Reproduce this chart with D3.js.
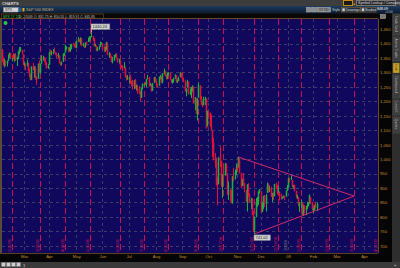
<!DOCTYPE html>
<html>
<head>
<meta charset="utf-8">
<title>SPX daily</title>
<script src="https://cdn.jsdelivr.net/npm/d3@7"></script>
<style>
  html, body { margin: 0; padding: 0; background: #2b2b2b; overflow: hidden; }
  svg { display: block; font-family: "Liberation Sans", Arial, sans-serif; }
</style>
</head>
<body>
<script>
// daily candles per month: [day, open, high, low, close]
var feb08 = [[1,1378.6,1396.0,1375.9,1395.4],[4,1395.4,1395.4,1379.7,1380.8],[5,1380.3,1380.3,1336.6,1336.6],
  [6,1339.5,1352.0,1324.3,1326.5],[7,1324.0,1347.2,1317.5,1336.9],[8,1336.9,1341.2,1321.1,1331.3],
  [11,1331.9,1341.4,1320.3,1339.1],[12,1340.6,1362.1,1339.4,1348.9],[13,1353.1,1369.2,1350.8,1367.2],
  [14,1367.3,1368.2,1347.3,1348.9],[15,1347.5,1350.0,1338.1,1350.0],[19,1355.9,1367.3,1345.0,1348.8],
  [20,1348.4,1363.7,1336.9,1360.0],[21,1362.2,1367.9,1339.3,1342.5],[22,1344.2,1354.3,1322.4,1353.1],
  [25,1352.8,1374.4,1346.0,1371.8],[26,1371.8,1387.3,1363.3,1381.3],[27,1379.0,1388.3,1372.0,1380.0],
  [28,1378.2,1378.2,1363.2,1367.7],[29,1364.1,1364.1,1325.4,1330.6]];
var mar08 = [[3,1330.5,1335.1,1320.0,1331.3],[4,1329.6,1331.0,1307.4,1326.8],[5,1327.7,1344.2,1320.2,1333.7],
  [6,1332.2,1333.2,1303.4,1304.3],[7,1301.5,1313.2,1282.4,1293.4],[10,1293.2,1295.0,1272.7,1273.4],
  [11,1274.4,1320.7,1274.4,1320.7],[12,1321.1,1333.3,1307.9,1308.8],[13,1305.3,1321.7,1282.1,1315.5],
  [14,1316.1,1321.5,1274.9,1288.1],[17,1283.2,1287.3,1257.0,1276.6],[18,1277.2,1330.7,1277.2,1330.7],
  [19,1331.0,1341.5,1298.4,1298.4],[20,1299.7,1330.7,1295.2,1329.5],[24,1330.3,1359.7,1330.3,1349.9],
  [25,1349.1,1357.5,1341.2,1353.0],[26,1352.5,1352.5,1336.4,1341.1],[27,1340.3,1345.6,1325.7,1325.8],
  [28,1327.0,1334.9,1312.9,1315.2],[31,1315.9,1328.3,1312.8,1322.7]];
var apr08 = [[1,1326.4,1370.2,1326.4,1370.2],[2,1370.0,1378.0,1361.6,1367.5],[3,1365.7,1375.7,1358.7,1369.3],
  [4,1369.9,1380.9,1362.8,1370.4],[7,1373.7,1386.7,1369.0,1372.5],[8,1370.2,1370.2,1360.6,1365.5],
  [9,1365.5,1368.4,1350.0,1354.5],[10,1355.4,1367.2,1350.1,1360.6],[11,1358.0,1358.0,1331.2,1332.8],
  [14,1332.2,1335.6,1324.0,1328.3],[15,1331.7,1337.7,1324.3,1334.4],[16,1337.0,1365.5,1337.0,1364.7],
  [17,1363.4,1368.6,1357.2,1365.6],[18,1369.0,1395.9,1369.0,1390.3],[21,1387.7,1390.2,1379.3,1388.2],
  [22,1386.4,1386.4,1369.8,1375.9],[23,1378.4,1387.4,1372.2,1379.9],[24,1380.5,1397.7,1371.1,1388.8],
  [25,1387.9,1399.1,1380.0,1397.8],[28,1398.0,1402.9,1394.4,1396.4],[29,1395.6,1397.0,1386.7,1390.9],
  [30,1391.2,1404.6,1384.3,1385.6]];
var may08 = [[1,1386.0,1410.1,1383.1,1409.3],[2,1409.2,1422.7,1406.3,1413.9],[5,1415.3,1415.3,1404.4,1407.5],
  [6,1405.6,1421.6,1397.1,1418.3],[7,1417.5,1419.5,1391.2,1392.6],[8,1394.3,1402.4,1389.4,1397.7],
  [9,1394.9,1394.9,1384.1,1388.3],[12,1389.4,1404.1,1386.2,1403.6],[13,1404.4,1406.3,1396.3,1403.0],
  [14,1405.6,1420.2,1405.6,1408.7],[15,1408.4,1424.4,1406.9,1423.6],[16,1423.9,1425.8,1414.4,1425.4],
  [19,1425.3,1440.2,1421.6,1426.6],[20,1424.5,1424.5,1409.1,1413.4],[21,1414.1,1419.1,1388.8,1390.7],
  [22,1390.8,1399.1,1390.2,1394.4],[23,1392.2,1392.2,1373.7,1375.9],[27,1376.0,1387.4,1373.1,1385.4],
  [28,1386.5,1391.3,1378.2,1390.8],[29,1390.5,1406.3,1388.6,1398.3],[30,1398.4,1404.5,1398.1,1400.4]];
var jun08 = [[2,1399.6,1399.6,1377.8,1385.7],[3,1386.4,1393.1,1370.1,1377.7],[4,1376.3,1388.2,1371.7,1377.2],
  [5,1377.5,1405.1,1377.5,1404.1],[6,1400.1,1404.1,1359.9,1360.7],[9,1360.8,1370.6,1350.7,1361.8],
  [10,1359.0,1366.8,1351.6,1358.4],[11,1357.1,1357.1,1335.5,1335.5],[12,1335.8,1353.0,1331.3,1339.9],
  [13,1341.8,1360.0,1341.7,1360.0],[16,1358.9,1364.7,1352.1,1360.1],[17,1360.7,1366.6,1350.5,1350.9],
  [18,1349.6,1349.6,1333.4,1337.8],[19,1336.9,1347.7,1330.4,1342.8],[20,1341.0,1341.0,1314.5,1317.9],
  [23,1319.8,1324.6,1314.0,1318.0],[24,1317.2,1326.0,1304.4,1314.3],[25,1314.5,1335.6,1314.5,1322.0],
  [26,1316.3,1316.3,1283.2,1283.2],[27,1283.6,1289.5,1272.0,1278.4],[30,1278.1,1290.7,1274.9,1280.0]];
var jul08 = [[1,1276.7,1285.3,1260.7,1284.9],[2,1285.8,1292.2,1261.5,1261.5],[3,1263.0,1271.5,1252.0,1262.9],
  [7,1262.9,1274.0,1240.7,1252.3],[8,1251.8,1274.2,1242.8,1273.7],[9,1273.4,1277.4,1244.6,1244.7],
  [10,1245.3,1257.6,1236.8,1253.4],[11,1248.7,1257.3,1225.4,1239.5],[14,1241.6,1253.5,1225.0,1228.3],
  [15,1226.8,1234.4,1200.4,1214.9],[16,1214.6,1245.5,1211.4,1245.4],[17,1246.3,1262.3,1241.5,1260.3],
  [18,1258.2,1262.2,1251.8,1260.7],[21,1261.8,1267.7,1255.7,1260.0],[22,1257.1,1277.4,1248.8,1277.0],
  [23,1278.9,1291.2,1276.1,1282.2],[24,1283.2,1283.2,1251.5,1252.5],[25,1253.5,1263.2,1251.8,1257.8],
  [28,1257.8,1260.1,1234.4,1234.4],[29,1236.4,1263.2,1236.4,1263.2],[30,1264.5,1284.3,1264.5,1284.3],
  [31,1281.4,1284.9,1265.7,1267.4]];
var aug08 = [[1,1269.4,1270.5,1254.5,1260.3],[4,1253.3,1260.5,1247.5,1249.0],[5,1254.9,1284.9,1254.7,1284.9],
  [6,1284.0,1291.7,1276.0,1289.2],[7,1286.5,1286.5,1264.3,1266.1],[8,1266.3,1297.9,1262.1,1296.3],
  [11,1294.4,1313.2,1292.8,1305.3],[12,1304.8,1304.8,1285.6,1289.6],[13,1288.6,1294.0,1274.9,1285.8],
  [14,1282.1,1300.1,1276.8,1292.9],[15,1293.9,1302.1,1290.7,1298.2],[18,1298.1,1300.2,1274.5,1278.6],
  [19,1276.7,1276.7,1263.1,1266.7],[20,1267.3,1276.0,1261.2,1274.5],[21,1271.1,1281.6,1264.8,1277.7],
  [22,1277.6,1293.1,1277.6,1292.2],[25,1290.5,1290.5,1264.9,1266.8],[26,1267.0,1275.7,1263.2,1271.5],
  [27,1271.3,1285.1,1270.0,1281.7],[28,1283.8,1300.7,1283.8,1300.7],[29,1296.5,1297.6,1282.7,1282.8]];
var sep08 = [[2,1287.8,1303.0,1272.2,1277.6],[3,1276.6,1280.6,1265.6,1275.0],[4,1271.8,1271.8,1232.8,1236.8],
  [5,1233.2,1244.9,1217.2,1242.3],[8,1249.5,1274.4,1247.1,1267.8],[9,1268.0,1268.7,1224.5,1224.5],
  [10,1227.5,1243.9,1221.6,1232.0],[11,1229.0,1250.0,1211.5,1249.1],[12,1245.9,1255.1,1233.8,1251.7],
  [15,1250.9,1250.9,1192.7,1192.7],[16,1188.3,1214.8,1169.3,1213.6],[17,1210.3,1210.3,1155.9,1156.4],
  [18,1157.1,1211.1,1133.5,1206.5],[19,1213.1,1265.1,1213.1,1255.1],[22,1255.4,1255.5,1205.6,1207.1],
  [23,1207.6,1219.2,1187.2,1188.2],[24,1188.8,1197.4,1179.8,1185.9],[25,1186.7,1215.8,1186.7,1209.2],
  [26,1204.5,1215.8,1187.5,1213.3],[29,1209.1,1209.1,1106.4,1106.4],[30,1113.8,1168.0,1113.8,1166.4]];
var oct08 = [[1,1164.2,1167.0,1140.8,1161.1],[2,1160.6,1160.6,1111.4,1114.3],[3,1115.2,1153.8,1098.1,1099.2],
  [6,1097.6,1097.6,1008.0,1056.9],[7,1057.6,1072.9,996.2,996.2],[8,988.9,1021.1,970.4,984.9],
  [9,988.4,1005.3,909.2,909.9],[10,902.3,936.4,839.8,899.2],[13,912.8,1006.9,912.8,1003.4],
  [14,1010.0,1044.3,972.1,998.0],[15,994.6,994.6,904.0,907.8],[16,909.5,947.7,865.8,946.4],
  [17,942.3,984.6,918.7,940.6],[20,943.5,985.4,943.5,985.4],[21,980.4,985.4,952.5,955.1],
  [22,951.7,951.7,875.8,896.8],[23,899.1,922.8,858.4,908.1],[24,895.1,896.3,852.9,876.8],
  [27,874.3,893.8,846.8,848.9],[28,848.9,940.5,845.3,940.5],[29,939.5,970.0,922.3,930.1],
  [30,939.4,963.2,928.9,954.1],[31,953.1,984.4,944.6,968.8]];
var nov08 = [[3,968.7,975.6,958.8,966.3],[4,971.3,1007.5,971.3,1005.8],[5,1001.8,1001.8,949.9,952.8],
  [6,952.4,952.4,899.7,904.9],[7,907.4,931.5,906.9,931.0],[10,936.8,952.0,907.5,919.2],
  [11,917.2,917.2,884.9,899.0],[12,893.4,893.4,850.5,852.3],[13,853.1,913.0,818.7,911.3],
  [14,904.4,916.9,869.9,873.3],[17,873.2,882.3,849.0,850.8],[18,852.3,865.9,826.8,859.1],
  [19,859.0,864.6,806.2,806.6],[20,805.9,820.5,747.8,752.4],[21,755.8,801.2,741.0,800.0],
  [24,801.2,865.6,800.0,851.8],[25,853.4,868.9,835.0,857.4],[26,852.9,887.7,841.4,887.7],
  [28,886.9,896.3,881.2,896.2]];
var dec08 = [[1,888.6,888.6,815.7,816.2],[2,817.9,850.5,817.9,848.8],[3,843.6,873.1,827.6,870.7],
  [4,869.8,875.6,833.6,845.2],[5,844.4,879.4,818.4,876.1],[8,882.7,918.6,882.7,909.7],
  [9,906.5,916.3,885.4,888.7],[10,892.2,908.3,885.5,899.2],[11,898.4,904.6,868.7,873.6],
  [12,871.8,883.2,851.4,879.7],[15,881.1,884.6,857.7,868.6],[16,871.5,914.7,871.5,913.2],
  [17,908.2,918.9,895.9,904.4],[18,905.0,911.0,877.4,885.3],[19,887.0,905.5,883.0,887.9],
  [22,887.2,887.4,857.1,871.6],[23,874.3,880.4,860.1,863.2],[24,863.9,869.8,861.4,868.2],
  [26,869.5,873.7,866.5,872.8],[29,872.4,873.7,857.1,869.4],[30,870.6,891.1,870.6,890.6],
  [31,890.6,910.3,889.7,903.3]];
var jan09 = [[2,903.0,934.7,899.4,931.8],[5,929.2,936.6,919.5,927.5],[6,931.2,943.9,927.3,934.7],
  [7,927.5,927.5,902.4,906.7],[8,905.7,910.0,896.8,909.7],[9,909.9,911.9,888.3,890.4],
  [12,890.4,890.4,864.3,870.3],[13,869.8,877.0,862.0,871.8],[14,867.3,867.3,836.9,842.6],
  [15,842.0,851.6,817.0,843.7],[16,844.5,858.1,830.7,850.1],[20,849.6,849.6,804.0,805.2],
  [21,806.8,841.7,804.3,840.2],[22,839.7,839.7,811.3,827.5],[23,822.2,838.6,806.1,832.0],
  [26,832.5,852.5,827.7,836.6],[27,837.3,850.5,836.3,845.7],[28,845.7,877.9,845.7,874.1],
  [29,868.9,868.9,844.2,845.1],[30,845.7,851.7,821.7,825.9]];
var feb09 = [[2,823.1,830.8,812.9,825.4],[3,825.7,842.6,822.0,838.5],[4,837.8,851.9,829.2,832.2],
  [5,831.8,850.6,819.9,845.9]];

var candleMonths = [["2008-02", feb08], ["2008-03", mar08], ["2008-04", apr08], ["2008-05", may08],
  ["2008-06", jun08], ["2008-07", jul08], ["2008-08", aug08], ["2008-09", sep08], ["2008-10", oct08],
  ["2008-11", nov08], ["2008-12", dec08], ["2009-01", jan09], ["2009-02", feb09]];

var holidays = ["2008-02-18", "2008-03-21", "2008-05-26", "2008-07-04", "2008-09-01", "2008-11-27",
  "2008-12-25", "2009-01-01", "2009-01-19", "2009-02-16", "2009-04-10"];
var opexDates = ["2008-02-15", "2008-03-20", "2008-04-18", "2008-05-16", "2008-06-20", "2008-07-18",
  "2008-08-15", "2008-09-19", "2008-10-17", "2008-11-21", "2008-12-19", "2009-01-16", "2009-02-20",
  "2009-03-20", "2009-04-17"];
var yearMarks = ["2009-01-02"];
var monthLabels = ["Mar", "Apr", "May", "Jun", "Jul", "Aug", "Sep", "Oct", "Nov", "Dec", "09", "Feb", "Mar", "Apr"];
var priceTicks = [700, 750, 800, 850, 900, 950, 1000, 1050, 1100, 1150, 1200, 1250, 1300, 1350, 1400, 1450];

var upperTrend = [["2008-11-04", 1007.5], ["2009-03-20", 872]];
var lowerTrend = [["2008-11-21", 741.0], ["2009-03-20", 872]];
var callouts = [["2008-05-19", 1440.24, "1440.24", "up"], ["2008-11-21", 741.02, "741.02", "down"]];

var W = 400, H = 268;
var plot = {left: 2, right: 378, top: 19, bottom: 253};

var fmt = d3.timeFormat("%Y-%m-%d");
var parse = d3.timeParse("%Y-%m-%d");

// trading calendar: weekdays minus exchange holidays
var calendar = d3.timeDay.range(new Date(2008, 1, 1), new Date(2009, 4, 1))
  .filter(function (d) { return d.getDay() > 0 && d.getDay() < 6 && holidays.indexOf(fmt(d)) < 0; });
var dayIndex = {};
calendar.forEach(function (d, i) { dayIndex[fmt(d)] = i; });

var candles = [];
candleMonths.forEach(function (m) {
  m[1].forEach(function (r) {
    var key = m[0] + "-" + (r[0] < 10 ? "0" : "") + r[0];
    candles.push({i: dayIndex[key], open: r[1], high: r[2], low: r[3], close: r[4]});
  });
});

var x = d3.scaleLinear().domain([2.33, 304.2]).range([plot.left, plot.right]);
var y = d3.scaleLinear().domain([675, 1485]).range([plot.bottom, plot.top]);
var px = function (i) { return Math.round(x(i)) + 0.5; };

var svg = d3.select("body").append("svg").attr("width", W).attr("height", H);

// ---- window chrome ----
svg.append("rect").attr("width", W).attr("height", H).attr("fill", "#2b2b2b");
svg.append("rect").attr("width", W).attr("height", 6).attr("fill", "#3d3d3d");
svg.append("text").attr("x", 2).attr("y", 4.6).attr("font-size", 4).attr("font-weight", "bold")
  .attr("fill", "#d8d8d8").text("CHARTS");
svg.append("rect").attr("x", 343.5).attr("y", 0.5).attr("width", 9).attr("height", 5)
  .attr("fill", "#1a1a1a").attr("stroke", "#c88a10");
svg.append("path").attr("d", "M353,5 L355,5 L355,3 Z").attr("fill", "#d09010");
svg.append("rect").attr("x", 356.5).attr("y", 0.5).attr("width", 39).attr("height", 5)
  .attr("fill", "#262626").attr("stroke", "#777");
svg.append("text").attr("x", 358).attr("y", 4.4).attr("font-size", 3.6).attr("fill", "#ddd")
  .text("Symbol Lookup / Company");

var grad = svg.append("defs").append("linearGradient").attr("id", "bar").attr("x1", 0).attr("x2", 0)
  .attr("y1", 0).attr("y2", 1);
grad.append("stop").attr("offset", 0).attr("stop-color", "#1e3c5e");
grad.append("stop").attr("offset", 1).attr("stop-color", "#0b1a30");
svg.append("rect").attr("y", 6).attr("width", W).attr("height", 7.5).attr("fill", "url(#bar)");
svg.append("rect").attr("x", 3.5).attr("y", 7.5).attr("width", 15).attr("height", 4.5)
  .attr("fill", "#d4d4d4").attr("stroke", "#888").attr("stroke-width", 0.5);
svg.append("text").attr("x", 5).attr("y", 11.1).attr("font-size", 3.6).attr("fill", "#333").text("SPX");
svg.append("rect").attr("x", 18.5).attr("y", 7.5).attr("width", 3).attr("height", 4.5).attr("fill", "#2a5a8a");
svg.append("rect").attr("x", 22.5).attr("y", 8).attr("width", 2).attr("height", 3.5).attr("fill", "#e0b020");
svg.append("text").attr("x", 26).attr("y", 11.2).attr("font-size", 3.8).attr("fill", "#c8b070")
  .text("S&P 500 INDEX");

[[306, 5], [312, 4], [317, 13]].forEach(function (b) {
  svg.append("rect").attr("x", b[0] + 0.5).attr("y", 7.5).attr("width", b[1]).attr("height", 4.5)
    .attr("fill", "#8a8a8a").attr("stroke", "#bbb").attr("stroke-width", 0.5);
});
svg.append("text").attr("x", 319).attr("y", 11).attr("font-size", 3.4).attr("fill", "#222").text("1Y 1D");
svg.append("text").attr("x", 332).attr("y", 11).attr("font-size", 3.6).attr("fill", "#ccc").text("Style");
[[341, 19, "Drawings"], [360.5, 15, "Studies"]].forEach(function (b) {
  svg.append("rect").attr("x", b[0] + 0.5).attr("y", 7.5).attr("width", b[1]).attr("height", 4.5)
    .attr("fill", "#1b2b40").attr("stroke", "#a07020").attr("stroke-width", 0.5);
  svg.append("rect").attr("x", b[0] + 1.3).attr("y", 8.3).attr("width", 2.5).attr("height", 2.9).attr("fill", "#ccc");
  svg.append("text").attr("x", b[0] + 4.5).attr("y", 11).attr("font-size", 3.4).attr("fill", "#ddd").text(b[2]);
});
svg.append("text").attr("x", 377).attr("y", 10).attr("font-size", 3.6).attr("fill", "#fff").text("848.09");
svg.append("text").attr("x", 385).attr("y", 13).attr("font-size", 3).attr("fill", "#bbb").text("+0.00");

// chart header strip
svg.append("rect").attr("y", 13.5).attr("width", W).attr("height", 5.5).attr("fill", "#080808");
svg.append("rect").attr("x", 1.5).attr("y", 14).attr("width", 102).attr("height", 4.5)
  .attr("fill", "none").attr("stroke", "#7a5020").attr("stroke-width", 0.6);
svg.append("text").attr("x", 3).attr("y", 17.6).attr("font-size", 3.4).attr("fill", "#3ad050").text("SPX 1Y 1D");
svg.append("text").attr("x", 19).attr("y", 17.6).attr("font-size", 3.4).attr("fill", "#ccc")
  .text("D: 2/5/09  O: 831.75  H: 850.55  L: 819.91  C: 845.85");

// ---- plot ----
svg.append("rect").attr("x", 0).attr("y", plot.top).attr("width", plot.left).attr("height", plot.bottom - plot.top)
  .attr("fill", "#5a4a3a");
svg.append("rect").attr("x", plot.left).attr("y", plot.top).attr("width", plot.right - plot.left)
  .attr("height", plot.bottom - plot.top).attr("fill", "#10085c");
svg.append("clipPath").attr("id", "clip").append("rect").attr("x", plot.left).attr("y", plot.top)
  .attr("width", plot.right - plot.left).attr("height", plot.bottom - plot.top);
var g = svg.append("g").attr("clip-path", "url(#clip)");

// month starts (first trading day of each month)
var monthStarts = d3.timeMonth.range(new Date(2008, 2, 1), new Date(2009, 4, 1)).map(function (m) {
  return d3.bisector(function (d) { return d; }).left(calendar, m);
});

// grid
g.selectAll(".hgrid").data(priceTicks).join("line")
  .attr("x1", plot.left).attr("x2", plot.right)
  .attr("y1", function (d) { return Math.round(y(d)) + 0.5; })
  .attr("y2", function (d) { return Math.round(y(d)) + 0.5; })
  .attr("stroke", "#3e3c66").attr("stroke-dasharray", "3,3");
g.selectAll(".vgrid").data(monthStarts).join("line")
  .attr("x1", px).attr("x2", px).attr("y1", plot.top).attr("y2", plot.bottom)
  .attr("stroke", "#3e3c66").attr("stroke-dasharray", "3,3");

// expiration lines
var opexIdx = opexDates.map(function (d) { return dayIndex[d]; });
g.selectAll(".opex").data(opexIdx).join("line")
  .attr("x1", px).attr("x2", px).attr("y1", plot.top).attr("y2", plot.bottom)
  .attr("stroke", "#c8124e").attr("stroke-dasharray", "6,3");
g.selectAll(".opexlab").data(opexDates).join("text")
  .attr("transform", function (d) { return "translate(" + (px(dayIndex[d]) - 1.5) + ",252) rotate(-90)"; })
  .attr("font-size", 3.8).attr("fill", "#d0185a")
  .text(function (d) { return d3.timeFormat("%-m/%-d/%y")(parse(d)); });
g.selectAll(".yearlab").data(yearMarks).join("text")
  .attr("transform", function (d) { return "translate(" + (px(dayIndex[d]) - 1.5) + ",251) rotate(-90)"; })
  .attr("font-size", 3.8).attr("fill", "#8a8a8a")
  .text(function (d) { return d3.timeFormat("%-m/%-d/%y")(parse(d)); });

// candles
var cg = g.selectAll(".candle").data(candles).join("g");
cg.append("line")
  .attr("x1", function (d) { return px(d.i); }).attr("x2", function (d) { return px(d.i); })
  .attr("y1", function (d) { return y(d.high); }).attr("y2", function (d) { return y(d.low); })
  .attr("stroke", function (d) { return d.close >= d.open ? "#1fb03c" : "#e0123a"; });
cg.append("rect")
  .attr("x", function (d) { return px(d.i) - 0.75; }).attr("width", 1.5)
  .attr("y", function (d) { return y(Math.max(d.open, d.close)); })
  .attr("height", function (d) { return Math.max(1, Math.abs(y(d.open) - y(d.close))); })
  .attr("fill", function (d) { return d.close >= d.open ? "#1fb03c" : "#e0123a"; });

// triangle trendlines
var line = d3.line().x(function (d) { return x(dayIndex[d[0]]); }).y(function (d) { return y(d[1]); });
[upperTrend, lowerTrend].forEach(function (t) {
  g.append("path").attr("d", line(t)).attr("fill", "none").attr("stroke", "#d22a6a").attr("stroke-width", 1);
});

// high / low callouts
callouts.forEach(function (c) {
  var cx = px(dayIndex[c[0]]), cy = y(c[1]);
  var by = c[3] === "up" ? cy - 8 : cy + 1;
  if (c[3] === "up") {
    g.append("line").attr("x1", cx).attr("x2", cx).attr("y1", cy).attr("y2", cy - 3).attr("stroke", "#aaa");
  }
  g.append("rect").attr("x", cx - 0.5).attr("y", by).attr("width", c[2].length * 2.4 + 2).attr("height", 5.5)
    .attr("fill", "#cfcfcf").attr("stroke", "#8c8c8c").attr("stroke-width", 0.5);
  g.append("text").attr("x", cx + 1).attr("y", by + 4.2).attr("font-size", 4).attr("fill", "#222").text(c[2]);
});

svg.append("circle").attr("cx", 5.5).attr("cy", 23).attr("r", 2).attr("fill", "#2ec44a");

// plot frame
svg.append("line").attr("x1", 0).attr("x2", plot.right).attr("y1", plot.top - 0.5).attr("y2", plot.top - 0.5)
  .attr("stroke", "#6a4820");
svg.append("line").attr("x1", plot.right + 0.5).attr("x2", plot.right + 0.5).attr("y1", plot.top)
  .attr("y2", plot.bottom).attr("stroke", "#6a4820");

// right price axis
svg.append("rect").attr("x", plot.right + 1).attr("y", plot.top).attr("width", 13).attr("height", plot.bottom - plot.top + 9)
  .attr("fill", "#050505");
var yAxis = svg.append("g").attr("transform", "translate(" + (plot.right + 1) + ",0)")
  .call(d3.axisRight(y).tickValues(priceTicks).tickFormat(d3.format(",")).tickSize(0).tickPadding(1));
yAxis.select(".domain").remove();
yAxis.selectAll("text").attr("font-size", 4.2).attr("fill", "#c8902e").attr("font-family", "Liberation Sans, Arial");
svg.append("rect").attr("x", 380.5).attr("y", 14.5).attr("width", 5).attr("height", 4)
  .attr("fill", "#777").attr("stroke", "#bbb").attr("stroke-width", 0.5);

// bottom time axis
svg.append("rect").attr("x", 0).attr("y", plot.bottom).attr("width", plot.right + 1).attr("height", 9).attr("fill", "#050505");
svg.append("line").attr("x1", 0).attr("x2", plot.right).attr("y1", plot.bottom + 0.5).attr("y2", plot.bottom + 0.5)
  .attr("stroke", "#5a4020");
var xAxis = svg.append("g").attr("transform", "translate(0," + plot.bottom + ")")
  .call(d3.axisBottom(x).tickValues(monthStarts)
    .tickFormat(function (d, i) { return monthLabels[i]; }).tickSize(0).tickPadding(2));
xAxis.select(".domain").remove();
xAxis.selectAll("text").attr("font-size", 4.2).attr("fill", "#c8902e").attr("font-family", "Liberation Sans, Arial");

// bottom bar
svg.append("rect").attr("y", 262).attr("width", W).attr("height", 6).attr("fill", "#3a3a3a");
[1, 6, 11, 16].forEach(function (bx) {
  svg.append("rect").attr("x", bx + 0.5).attr("y", 262.5).attr("width", 4).attr("height", 4)
    .attr("fill", "#cfcfcf").attr("stroke", "#777").attr("stroke-width", 0.5);
});
svg.append("text").attr("x", 23).attr("y", 266.5).attr("font-size", 4).attr("fill", "#ddd").text("1");
svg.append("text").attr("x", 394).attr("y", 266.5).attr("font-size", 4).attr("fill", "#ddd").text("»");

// right side tab strip
svg.append("rect").attr("x", 392).attr("y", 13.5).attr("width", 8).attr("height", 248.5).attr("fill", "#2e2e2e");
var tabs = [["Trade Grid", 14, 36], ["Active Trader", 37, 62], ["Live", 63, 74], ["Dashboard", 75, 99],
  ["Level II", 100, 116], ["Quotes", 117, 134]];
tabs.forEach(function (t) {
  svg.append("rect").attr("x", 393).attr("y", t[1]).attr("width", 6.5).attr("height", t[2] - t[1] - 1)
    .attr("fill", t[0] === "Live" ? "#c8a020" : "#3c3c3c").attr("stroke", "#555").attr("stroke-width", 0.4);
  svg.append("text").attr("transform", "translate(395,"
    + (t[1] + 1.5) + ") rotate(90)").attr("font-size", 3.4).attr("fill", t[0] === "Live" ? "#222" : "#bbb").text(t[0]);
});
</script>
</body>
</html>
